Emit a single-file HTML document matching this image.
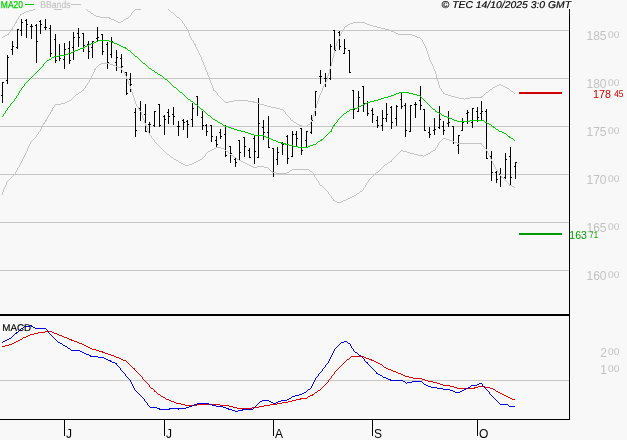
<!DOCTYPE html>
<html><head><meta charset="utf-8"><title>TEC chart</title>
<style>html,body{margin:0;padding:0;background:#f8f8f8;}body{width:627px;height:440px;position:relative;overflow:hidden;}</style></head>
<body>
<svg width="627" height="440" viewBox="0 0 627 440" style="position:absolute;left:0;top:0">
<rect width="627" height="440" fill="#f8f8f8"/>
<g shape-rendering="crispEdges" fill="#c6c6c6">
<rect x="0" y="30" width="569" height="1"/>
<rect x="0" y="78" width="569" height="1"/>
<rect x="0" y="126" width="569" height="1"/>
<rect x="0" y="174" width="569" height="1"/>
<rect x="0" y="222" width="569" height="1"/>
<rect x="0" y="270" width="569" height="1"/>
<rect x="0" y="380" width="569" height="1"/>
</g>
<g shape-rendering="crispEdges" fill="#000">
<rect x="2" y="82" width="1" height="21"/>
<rect x="1" y="95" width="1" height="1"/>
<rect x="3" y="82" width="1" height="1"/>
<rect x="7" y="55" width="1" height="29"/>
<rect x="6" y="80" width="1" height="1"/>
<rect x="8" y="57" width="1" height="1"/>
<rect x="12" y="41" width="1" height="14"/>
<rect x="11" y="49" width="1" height="1"/>
<rect x="13" y="46" width="1" height="1"/>
<rect x="17" y="29" width="1" height="20"/>
<rect x="16" y="47" width="1" height="1"/>
<rect x="18" y="29" width="1" height="1"/>
<rect x="21" y="19" width="1" height="17"/>
<rect x="20" y="30" width="1" height="1"/>
<rect x="22" y="22" width="1" height="1"/>
<rect x="26" y="19" width="1" height="19"/>
<rect x="25" y="20" width="1" height="1"/>
<rect x="27" y="24" width="1" height="1"/>
<rect x="31" y="24" width="1" height="15"/>
<rect x="30" y="26" width="1" height="1"/>
<rect x="32" y="26" width="1" height="1"/>
<rect x="36" y="24" width="1" height="39"/>
<rect x="35" y="25" width="1" height="1"/>
<rect x="37" y="41" width="1" height="1"/>
<rect x="40" y="20" width="1" height="14"/>
<rect x="39" y="21" width="1" height="1"/>
<rect x="41" y="24" width="1" height="1"/>
<rect x="45" y="19" width="1" height="11"/>
<rect x="44" y="27" width="1" height="1"/>
<rect x="46" y="27" width="1" height="1"/>
<rect x="50" y="25" width="1" height="32"/>
<rect x="49" y="28" width="1" height="1"/>
<rect x="51" y="53" width="1" height="1"/>
<rect x="55" y="34" width="1" height="29"/>
<rect x="54" y="39" width="1" height="1"/>
<rect x="56" y="60" width="1" height="1"/>
<rect x="59" y="44" width="1" height="17"/>
<rect x="58" y="56" width="1" height="1"/>
<rect x="60" y="58" width="1" height="1"/>
<rect x="64" y="43" width="1" height="26"/>
<rect x="63" y="59" width="1" height="1"/>
<rect x="65" y="49" width="1" height="1"/>
<rect x="69" y="41" width="1" height="23"/>
<rect x="68" y="48" width="1" height="1"/>
<rect x="70" y="60" width="1" height="1"/>
<rect x="73" y="32" width="1" height="28"/>
<rect x="72" y="47" width="1" height="1"/>
<rect x="74" y="37" width="1" height="1"/>
<rect x="78" y="28" width="1" height="19"/>
<rect x="77" y="33" width="1" height="1"/>
<rect x="79" y="37" width="1" height="1"/>
<rect x="83" y="33" width="1" height="19"/>
<rect x="82" y="33" width="1" height="1"/>
<rect x="84" y="45" width="1" height="1"/>
<rect x="88" y="41" width="1" height="18"/>
<rect x="87" y="44" width="1" height="1"/>
<rect x="89" y="51" width="1" height="1"/>
<rect x="92" y="41" width="1" height="17"/>
<rect x="91" y="47" width="1" height="1"/>
<rect x="93" y="41" width="1" height="1"/>
<rect x="97" y="27" width="1" height="14"/>
<rect x="96" y="38" width="1" height="1"/>
<rect x="98" y="37" width="1" height="1"/>
<rect x="102" y="34" width="1" height="21"/>
<rect x="101" y="34" width="1" height="1"/>
<rect x="103" y="51" width="1" height="1"/>
<rect x="107" y="42" width="1" height="27"/>
<rect x="106" y="44" width="1" height="1"/>
<rect x="108" y="62" width="1" height="1"/>
<rect x="111" y="37" width="1" height="21"/>
<rect x="110" y="54" width="1" height="1"/>
<rect x="112" y="41" width="1" height="1"/>
<rect x="116" y="50" width="1" height="21"/>
<rect x="115" y="62" width="1" height="1"/>
<rect x="117" y="57" width="1" height="1"/>
<rect x="121" y="54" width="1" height="19"/>
<rect x="120" y="58" width="1" height="1"/>
<rect x="122" y="66" width="1" height="1"/>
<rect x="126" y="72" width="1" height="23"/>
<rect x="125" y="72" width="1" height="1"/>
<rect x="127" y="93" width="1" height="1"/>
<rect x="130" y="73" width="1" height="19"/>
<rect x="129" y="79" width="1" height="1"/>
<rect x="131" y="84" width="1" height="1"/>
<rect x="135" y="108" width="1" height="29"/>
<rect x="134" y="112" width="1" height="1"/>
<rect x="136" y="130" width="1" height="1"/>
<rect x="140" y="101" width="1" height="20"/>
<rect x="139" y="108" width="1" height="1"/>
<rect x="141" y="112" width="1" height="1"/>
<rect x="145" y="104" width="1" height="28"/>
<rect x="144" y="114" width="1" height="1"/>
<rect x="146" y="131" width="1" height="1"/>
<rect x="149" y="122" width="1" height="12"/>
<rect x="148" y="124" width="1" height="1"/>
<rect x="150" y="124" width="1" height="1"/>
<rect x="154" y="111" width="1" height="16"/>
<rect x="153" y="125" width="1" height="1"/>
<rect x="155" y="111" width="1" height="1"/>
<rect x="159" y="104" width="1" height="23"/>
<rect x="158" y="104" width="1" height="1"/>
<rect x="160" y="125" width="1" height="1"/>
<rect x="164" y="115" width="1" height="20"/>
<rect x="163" y="116" width="1" height="1"/>
<rect x="165" y="119" width="1" height="1"/>
<rect x="168" y="109" width="1" height="15"/>
<rect x="167" y="112" width="1" height="1"/>
<rect x="169" y="116" width="1" height="1"/>
<rect x="173" y="107" width="1" height="18"/>
<rect x="172" y="114" width="1" height="1"/>
<rect x="174" y="116" width="1" height="1"/>
<rect x="178" y="121" width="1" height="15"/>
<rect x="177" y="126" width="1" height="1"/>
<rect x="179" y="126" width="1" height="1"/>
<rect x="183" y="119" width="1" height="11"/>
<rect x="182" y="120" width="1" height="1"/>
<rect x="184" y="122" width="1" height="1"/>
<rect x="187" y="120" width="1" height="18"/>
<rect x="186" y="121" width="1" height="1"/>
<rect x="188" y="124" width="1" height="1"/>
<rect x="192" y="103" width="1" height="24"/>
<rect x="191" y="119" width="1" height="1"/>
<rect x="193" y="108" width="1" height="1"/>
<rect x="197" y="96" width="1" height="20"/>
<rect x="196" y="96" width="1" height="1"/>
<rect x="198" y="106" width="1" height="1"/>
<rect x="202" y="111" width="1" height="19"/>
<rect x="201" y="117" width="1" height="1"/>
<rect x="203" y="125" width="1" height="1"/>
<rect x="206" y="124" width="1" height="12"/>
<rect x="205" y="125" width="1" height="1"/>
<rect x="207" y="131" width="1" height="1"/>
<rect x="211" y="125" width="1" height="17"/>
<rect x="210" y="125" width="1" height="1"/>
<rect x="212" y="136" width="1" height="1"/>
<rect x="216" y="136" width="1" height="11"/>
<rect x="215" y="140" width="1" height="1"/>
<rect x="217" y="144" width="1" height="1"/>
<rect x="220" y="129" width="1" height="10"/>
<rect x="219" y="132" width="1" height="1"/>
<rect x="221" y="136" width="1" height="1"/>
<rect x="225" y="125" width="1" height="32"/>
<rect x="224" y="134" width="1" height="1"/>
<rect x="226" y="155" width="1" height="1"/>
<rect x="230" y="146" width="1" height="17"/>
<rect x="229" y="146" width="1" height="1"/>
<rect x="231" y="153" width="1" height="1"/>
<rect x="235" y="157" width="1" height="10"/>
<rect x="234" y="159" width="1" height="1"/>
<rect x="236" y="162" width="1" height="1"/>
<rect x="239" y="140" width="1" height="20"/>
<rect x="238" y="140" width="1" height="1"/>
<rect x="240" y="152" width="1" height="1"/>
<rect x="244" y="137" width="1" height="20"/>
<rect x="243" y="137" width="1" height="1"/>
<rect x="245" y="146" width="1" height="1"/>
<rect x="249" y="148" width="1" height="10"/>
<rect x="248" y="150" width="1" height="1"/>
<rect x="250" y="157" width="1" height="1"/>
<rect x="254" y="136" width="1" height="28"/>
<rect x="253" y="138" width="1" height="1"/>
<rect x="255" y="151" width="1" height="1"/>
<rect x="258" y="98" width="1" height="60"/>
<rect x="257" y="157" width="1" height="1"/>
<rect x="259" y="123" width="1" height="1"/>
<rect x="263" y="120" width="1" height="20"/>
<rect x="262" y="127" width="1" height="1"/>
<rect x="264" y="132" width="1" height="1"/>
<rect x="268" y="116" width="1" height="32"/>
<rect x="267" y="132" width="1" height="1"/>
<rect x="269" y="147" width="1" height="1"/>
<rect x="273" y="148" width="1" height="29"/>
<rect x="272" y="148" width="1" height="1"/>
<rect x="274" y="172" width="1" height="1"/>
<rect x="277" y="147" width="1" height="18"/>
<rect x="276" y="159" width="1" height="1"/>
<rect x="278" y="152" width="1" height="1"/>
<rect x="282" y="142" width="1" height="13"/>
<rect x="281" y="143" width="1" height="1"/>
<rect x="283" y="144" width="1" height="1"/>
<rect x="287" y="135" width="1" height="29"/>
<rect x="286" y="136" width="1" height="1"/>
<rect x="288" y="158" width="1" height="1"/>
<rect x="292" y="131" width="1" height="26"/>
<rect x="291" y="156" width="1" height="1"/>
<rect x="293" y="134" width="1" height="1"/>
<rect x="296" y="131" width="1" height="15"/>
<rect x="295" y="134" width="1" height="1"/>
<rect x="297" y="138" width="1" height="1"/>
<rect x="301" y="128" width="1" height="27"/>
<rect x="300" y="128" width="1" height="1"/>
<rect x="302" y="150" width="1" height="1"/>
<rect x="306" y="131" width="1" height="16"/>
<rect x="305" y="140" width="1" height="1"/>
<rect x="307" y="131" width="1" height="1"/>
<rect x="311" y="115" width="1" height="19"/>
<rect x="310" y="132" width="1" height="1"/>
<rect x="312" y="120" width="1" height="1"/>
<rect x="315" y="91" width="1" height="25"/>
<rect x="314" y="112" width="1" height="1"/>
<rect x="316" y="91" width="1" height="1"/>
<rect x="320" y="70" width="1" height="14"/>
<rect x="319" y="76" width="1" height="1"/>
<rect x="321" y="76" width="1" height="1"/>
<rect x="325" y="73" width="1" height="14"/>
<rect x="324" y="78" width="1" height="1"/>
<rect x="326" y="78" width="1" height="1"/>
<rect x="330" y="44" width="1" height="36"/>
<rect x="329" y="78" width="1" height="1"/>
<rect x="331" y="46" width="1" height="1"/>
<rect x="334" y="30" width="1" height="23"/>
<rect x="333" y="30" width="1" height="1"/>
<rect x="335" y="50" width="1" height="1"/>
<rect x="339" y="31" width="1" height="19"/>
<rect x="338" y="32" width="1" height="1"/>
<rect x="340" y="46" width="1" height="1"/>
<rect x="344" y="39" width="1" height="15"/>
<rect x="343" y="53" width="1" height="1"/>
<rect x="345" y="48" width="1" height="1"/>
<rect x="349" y="50" width="1" height="23"/>
<rect x="348" y="50" width="1" height="1"/>
<rect x="350" y="72" width="1" height="1"/>
<rect x="353" y="90" width="1" height="29"/>
<rect x="352" y="90" width="1" height="1"/>
<rect x="354" y="109" width="1" height="1"/>
<rect x="358" y="91" width="1" height="21"/>
<rect x="357" y="111" width="1" height="1"/>
<rect x="359" y="97" width="1" height="1"/>
<rect x="363" y="86" width="1" height="26"/>
<rect x="362" y="86" width="1" height="1"/>
<rect x="364" y="103" width="1" height="1"/>
<rect x="367" y="101" width="1" height="15"/>
<rect x="366" y="103" width="1" height="1"/>
<rect x="368" y="113" width="1" height="1"/>
<rect x="372" y="108" width="1" height="15"/>
<rect x="371" y="110" width="1" height="1"/>
<rect x="373" y="114" width="1" height="1"/>
<rect x="377" y="116" width="1" height="12"/>
<rect x="376" y="120" width="1" height="1"/>
<rect x="378" y="125" width="1" height="1"/>
<rect x="382" y="110" width="1" height="21"/>
<rect x="381" y="125" width="1" height="1"/>
<rect x="383" y="118" width="1" height="1"/>
<rect x="386" y="103" width="1" height="19"/>
<rect x="385" y="118" width="1" height="1"/>
<rect x="387" y="114" width="1" height="1"/>
<rect x="391" y="106" width="1" height="23"/>
<rect x="390" y="107" width="1" height="1"/>
<rect x="392" y="122" width="1" height="1"/>
<rect x="396" y="105" width="1" height="21"/>
<rect x="395" y="118" width="1" height="1"/>
<rect x="397" y="106" width="1" height="1"/>
<rect x="401" y="92" width="1" height="17"/>
<rect x="400" y="99" width="1" height="1"/>
<rect x="402" y="106" width="1" height="1"/>
<rect x="405" y="103" width="1" height="34"/>
<rect x="404" y="105" width="1" height="1"/>
<rect x="406" y="130" width="1" height="1"/>
<rect x="410" y="105" width="1" height="27"/>
<rect x="409" y="131" width="1" height="1"/>
<rect x="411" y="105" width="1" height="1"/>
<rect x="415" y="102" width="1" height="16"/>
<rect x="414" y="104" width="1" height="1"/>
<rect x="416" y="104" width="1" height="1"/>
<rect x="420" y="86" width="1" height="24"/>
<rect x="419" y="100" width="1" height="1"/>
<rect x="421" y="105" width="1" height="1"/>
<rect x="424" y="109" width="1" height="22"/>
<rect x="423" y="109" width="1" height="1"/>
<rect x="425" y="130" width="1" height="1"/>
<rect x="429" y="127" width="1" height="11"/>
<rect x="428" y="132" width="1" height="1"/>
<rect x="430" y="134" width="1" height="1"/>
<rect x="434" y="118" width="1" height="17"/>
<rect x="433" y="130" width="1" height="1"/>
<rect x="435" y="129" width="1" height="1"/>
<rect x="439" y="106" width="1" height="23"/>
<rect x="438" y="127" width="1" height="1"/>
<rect x="440" y="119" width="1" height="1"/>
<rect x="443" y="121" width="1" height="14"/>
<rect x="442" y="126" width="1" height="1"/>
<rect x="444" y="130" width="1" height="1"/>
<rect x="448" y="111" width="1" height="16"/>
<rect x="447" y="123" width="1" height="1"/>
<rect x="449" y="122" width="1" height="1"/>
<rect x="453" y="126" width="1" height="18"/>
<rect x="452" y="126" width="1" height="1"/>
<rect x="454" y="142" width="1" height="1"/>
<rect x="458" y="135" width="1" height="19"/>
<rect x="457" y="145" width="1" height="1"/>
<rect x="459" y="135" width="1" height="1"/>
<rect x="462" y="118" width="1" height="13"/>
<rect x="461" y="130" width="1" height="1"/>
<rect x="463" y="122" width="1" height="1"/>
<rect x="467" y="110" width="1" height="14"/>
<rect x="466" y="113" width="1" height="1"/>
<rect x="468" y="112" width="1" height="1"/>
<rect x="472" y="108" width="1" height="20"/>
<rect x="471" y="122" width="1" height="1"/>
<rect x="473" y="108" width="1" height="1"/>
<rect x="477" y="107" width="1" height="15"/>
<rect x="476" y="111" width="1" height="1"/>
<rect x="478" y="117" width="1" height="1"/>
<rect x="481" y="101" width="1" height="19"/>
<rect x="480" y="113" width="1" height="1"/>
<rect x="482" y="111" width="1" height="1"/>
<rect x="486" y="109" width="1" height="50"/>
<rect x="485" y="111" width="1" height="1"/>
<rect x="487" y="158" width="1" height="1"/>
<rect x="491" y="151" width="1" height="30"/>
<rect x="490" y="156" width="1" height="1"/>
<rect x="492" y="172" width="1" height="1"/>
<rect x="496" y="171" width="1" height="12"/>
<rect x="495" y="172" width="1" height="1"/>
<rect x="497" y="179" width="1" height="1"/>
<rect x="500" y="168" width="1" height="19"/>
<rect x="499" y="174" width="1" height="1"/>
<rect x="501" y="176" width="1" height="1"/>
<rect x="505" y="153" width="1" height="26"/>
<rect x="504" y="177" width="1" height="1"/>
<rect x="506" y="159" width="1" height="1"/>
<rect x="510" y="147" width="1" height="38"/>
<rect x="509" y="156" width="1" height="1"/>
<rect x="511" y="177" width="1" height="1"/>
<rect x="515" y="162" width="1" height="17"/>
<rect x="514" y="166" width="1" height="1"/>
<rect x="516" y="162" width="1" height="1"/>
</g>
<path d="M33 9h2v1h-2zM29 10h4v1h-4zM26 11h3v1h-3zM24 12h2v1h-2zM22 13h2v1h-2zM20 14h2v1h-2zM20 15h1v1h-1zM19 16h1v1h-1zM18 17h1v1h-1zM18 18h1v1h-1zM17 19h1v1h-1zM16 20h1v1h-1zM16 21h1v1h-1zM15 22h2v1h-2zM15 23h1v1h-1zM14 24h1v1h-1zM14 25h1v1h-1zM13 26h1v1h-1zM12 27h1v1h-1zM12 28h1v1h-1zM11 29h2v1h-2zM11 30h1v1h-1zM10 31h1v1h-1zM9 32h1v1h-1zM8 33h1v1h-1zM7 34h2v1h-2zM5 35h2v1h-2zM3 36h2v1h-2zM2 37h1v1h-1z" fill="#c4c4c4" shape-rendering="crispEdges"/>
<path d="M54 9h8v1h-8z" fill="#c4c4c4" shape-rendering="crispEdges"/>
<path d="M86 9h1v1h-1zM135 9h6v1h-6zM87 10h1v1h-1zM134 10h1v1h-1zM88 11h2v1h-2zM133 11h1v1h-1zM90 12h1v1h-1zM132 12h1v1h-1zM91 13h2v1h-2zM131 13h1v1h-1zM93 14h1v1h-1zM131 14h1v1h-1zM94 15h2v1h-2zM130 15h1v1h-1zM96 16h4v1h-4zM129 16h1v1h-1zM100 17h10v1h-10zM128 17h1v1h-1zM109 18h2v1h-2zM126 18h2v1h-2zM111 19h3v1h-3zM124 19h2v1h-2zM114 20h2v1h-2zM123 20h1v1h-1zM116 21h2v1h-2zM121 21h2v1h-2zM118 22h3v1h-3z" fill="#c4c4c4" shape-rendering="crispEdges"/>
<path d="M168 9h1v1h-1zM169 10h1v1h-1zM170 11h1v1h-1zM171 12h2v1h-2zM173 13h1v1h-1zM174 14h1v1h-1zM175 15h1v1h-1zM176 16h1v1h-1zM177 17h2v1h-2zM179 18h1v1h-1zM180 19h1v1h-1zM181 20h1v1h-1zM182 21h1v1h-1zM182 22h1v1h-1zM353 22h12v1h-12zM183 23h1v1h-1zM350 23h3v1h-3zM365 23h2v1h-2zM184 24h1v1h-1zM348 24h2v1h-2zM367 24h3v1h-3zM184 25h1v1h-1zM347 25h1v1h-1zM370 25h3v1h-3zM185 26h1v1h-1zM345 26h2v1h-2zM373 26h4v1h-4zM186 27h1v1h-1zM344 27h1v1h-1zM377 27h4v1h-4zM186 28h1v1h-1zM344 28h1v1h-1zM381 28h4v1h-4zM187 29h1v1h-1zM343 29h1v1h-1zM385 29h4v1h-4zM187 30h1v1h-1zM342 30h1v1h-1zM389 30h2v1h-2zM188 31h1v1h-1zM342 31h1v1h-1zM391 31h3v1h-3zM188 32h1v1h-1zM341 32h1v1h-1zM394 32h2v1h-2zM189 33h1v1h-1zM341 33h1v1h-1zM396 33h2v1h-2zM189 34h1v1h-1zM340 34h1v1h-1zM398 34h14v1h-14zM189 35h1v1h-1zM340 35h1v1h-1zM412 35h3v1h-3zM190 36h1v1h-1zM339 36h1v1h-1zM415 36h2v1h-2zM190 37h1v1h-1zM339 37h1v1h-1zM417 37h3v1h-3zM191 38h1v1h-1zM339 38h1v1h-1zM420 38h1v1h-1zM191 39h1v1h-1zM338 39h1v1h-1zM421 39h1v1h-1zM192 40h1v1h-1zM338 40h1v1h-1zM422 40h1v1h-1zM193 41h1v1h-1zM337 41h1v1h-1zM422 41h1v1h-1zM193 42h1v1h-1zM337 42h1v1h-1zM423 42h1v1h-1zM194 43h1v1h-1zM336 43h1v1h-1zM423 43h1v1h-1zM194 44h2v1h-2zM336 44h1v1h-1zM424 44h1v1h-1zM195 45h1v1h-1zM336 45h1v1h-1zM424 45h1v1h-1zM195 46h1v1h-1zM335 46h1v1h-1zM425 46h1v1h-1zM196 47h1v1h-1zM335 47h1v1h-1zM425 47h1v1h-1zM196 48h1v1h-1zM335 48h1v1h-1zM426 48h1v1h-1zM197 49h1v1h-1zM335 49h1v1h-1zM426 49h1v1h-1zM197 50h1v1h-1zM334 50h1v1h-1zM426 50h1v1h-1zM198 51h1v1h-1zM334 51h1v1h-1zM427 51h1v1h-1zM198 52h1v1h-1zM334 52h1v1h-1zM427 52h1v1h-1zM199 53h1v1h-1zM334 53h1v1h-1zM427 53h1v1h-1zM199 54h1v1h-1zM333 54h1v1h-1zM428 54h1v1h-1zM200 55h1v1h-1zM333 55h1v1h-1zM428 55h1v1h-1zM200 56h1v1h-1zM333 56h1v1h-1zM428 56h1v1h-1zM201 57h1v1h-1zM333 57h1v1h-1zM429 57h1v1h-1zM201 58h1v1h-1zM332 58h1v1h-1zM429 58h1v1h-1zM201 59h1v1h-1zM332 59h1v1h-1zM429 59h1v1h-1zM202 60h1v1h-1zM332 60h1v1h-1zM430 60h1v1h-1zM202 61h1v1h-1zM332 61h1v1h-1zM430 61h1v1h-1zM203 62h1v1h-1zM331 62h1v1h-1zM431 62h1v1h-1zM203 63h1v1h-1zM331 63h1v1h-1zM431 63h1v1h-1zM203 64h1v1h-1zM331 64h1v1h-1zM432 64h1v1h-1zM204 65h1v1h-1zM331 65h1v1h-1zM432 65h1v1h-1zM204 66h1v1h-1zM330 66h1v1h-1zM433 66h1v1h-1zM205 67h1v1h-1zM330 67h1v1h-1zM433 67h1v1h-1zM205 68h1v1h-1zM330 68h1v1h-1zM433 68h1v1h-1zM205 69h1v1h-1zM329 69h1v1h-1zM434 69h1v1h-1zM206 70h1v1h-1zM329 70h1v1h-1zM434 70h1v1h-1zM206 71h1v1h-1zM329 71h1v1h-1zM435 71h1v1h-1zM207 72h1v1h-1zM329 72h1v1h-1zM435 72h1v1h-1zM207 73h1v1h-1zM328 73h1v1h-1zM435 73h1v1h-1zM207 74h1v1h-1zM328 74h1v1h-1zM436 74h1v1h-1zM208 75h1v1h-1zM328 75h1v1h-1zM436 75h1v1h-1zM208 76h1v1h-1zM327 76h1v1h-1zM436 76h1v1h-1zM209 77h1v1h-1zM327 77h1v1h-1zM436 77h1v1h-1zM209 78h1v1h-1zM327 78h1v1h-1zM437 78h1v1h-1zM209 79h1v1h-1zM327 79h1v1h-1zM437 79h1v1h-1zM210 80h1v1h-1zM326 80h1v1h-1zM437 80h1v1h-1zM210 81h1v1h-1zM326 81h1v1h-1zM438 81h1v1h-1zM210 82h1v1h-1zM325 82h1v1h-1zM438 82h1v1h-1zM211 83h1v1h-1zM325 83h1v1h-1zM438 83h1v1h-1zM211 84h1v1h-1zM324 84h1v1h-1zM438 84h1v1h-1zM499 84h2v1h-2zM212 85h1v1h-1zM324 85h1v1h-1zM439 85h1v1h-1zM497 85h2v1h-2zM501 85h2v1h-2zM212 86h1v1h-1zM323 86h1v1h-1zM439 86h1v1h-1zM495 86h2v1h-2zM503 86h2v1h-2zM212 87h1v1h-1zM323 87h1v1h-1zM439 87h1v1h-1zM493 87h2v1h-2zM505 87h2v1h-2zM213 88h1v1h-1zM322 88h1v1h-1zM440 88h1v1h-1zM492 88h1v1h-1zM507 88h2v1h-2zM213 89h1v1h-1zM322 89h1v1h-1zM441 89h1v1h-1zM490 89h2v1h-2zM509 89h1v1h-1zM213 90h2v1h-2zM322 90h1v1h-1zM441 90h1v1h-1zM489 90h1v1h-1zM510 90h1v1h-1zM215 91h1v1h-1zM321 91h1v1h-1zM442 91h1v1h-1zM488 91h1v1h-1zM511 91h2v1h-2zM216 92h1v1h-1zM321 92h1v1h-1zM443 92h1v1h-1zM486 92h2v1h-2zM513 92h1v1h-1zM217 93h1v1h-1zM320 93h1v1h-1zM443 93h2v1h-2zM485 93h1v1h-1zM514 93h1v1h-1zM217 94h1v1h-1zM320 94h1v1h-1zM445 94h3v1h-3zM484 94h1v1h-1zM218 95h1v1h-1zM319 95h1v1h-1zM448 95h3v1h-3zM483 95h1v1h-1zM219 96h1v1h-1zM319 96h1v1h-1zM451 96h4v1h-4zM481 96h2v1h-2zM220 97h1v1h-1zM319 97h1v1h-1zM455 97h4v1h-4zM470 97h12v1h-12zM221 98h1v1h-1zM318 98h1v1h-1zM459 98h5v1h-5zM465 98h5v1h-5zM222 99h1v1h-1zM318 99h1v1h-1zM464 99h1v1h-1zM223 100h1v1h-1zM234 100h14v1h-14zM318 100h1v1h-1zM224 101h1v1h-1zM229 101h5v1h-5zM248 101h6v1h-6zM317 101h1v1h-1zM225 102h4v1h-4zM253 102h4v1h-4zM317 102h1v1h-1zM257 103h3v1h-3zM317 103h1v1h-1zM260 104h4v1h-4zM316 104h1v1h-1zM264 105h3v1h-3zM316 105h1v1h-1zM267 106h4v1h-4zM316 106h1v1h-1zM271 107h5v1h-5zM316 107h1v1h-1zM276 108h4v1h-4zM315 108h1v1h-1zM280 109h3v1h-3zM315 109h1v1h-1zM283 110h1v1h-1zM315 110h1v1h-1zM284 111h1v1h-1zM314 111h1v1h-1zM285 112h1v1h-1zM314 112h1v1h-1zM285 113h1v1h-1zM314 113h1v1h-1zM286 114h1v1h-1zM313 114h1v1h-1zM287 115h1v1h-1zM313 115h1v1h-1zM288 116h1v1h-1zM313 116h1v1h-1zM289 117h1v1h-1zM312 117h1v1h-1zM290 118h1v1h-1zM312 118h1v1h-1zM290 119h1v1h-1zM312 119h1v1h-1zM291 120h2v1h-2zM311 120h1v1h-1zM293 121h1v1h-1zM311 121h1v1h-1zM294 122h2v1h-2zM310 122h1v1h-1zM296 123h1v1h-1zM310 123h1v1h-1zM297 124h2v1h-2zM308 124h2v1h-2zM299 125h3v1h-3zM307 125h1v1h-1zM302 126h5v1h-5z" fill="#c4c4c4" shape-rendering="crispEdges"/>
<path d="M101 63h9v1h-9zM99 64h2v1h-2zM110 64h3v1h-3zM98 65h1v1h-1zM113 65h3v1h-3zM97 66h1v1h-1zM116 66h2v1h-2zM96 67h1v1h-1zM118 67h3v1h-3zM95 68h1v1h-1zM121 68h1v1h-1zM94 69h2v1h-2zM121 69h1v1h-1zM94 70h1v1h-1zM122 70h1v1h-1zM94 71h1v1h-1zM123 71h1v1h-1zM93 72h1v1h-1zM124 72h1v1h-1zM93 73h1v1h-1zM124 73h1v1h-1zM92 74h1v1h-1zM125 74h1v1h-1zM92 75h1v1h-1zM125 75h1v1h-1zM91 76h1v1h-1zM126 76h1v1h-1zM91 77h1v1h-1zM126 77h1v1h-1zM90 78h1v1h-1zM126 78h2v1h-2zM90 79h1v1h-1zM127 79h1v1h-1zM89 80h1v1h-1zM127 80h1v1h-1zM89 81h1v1h-1zM128 81h1v1h-1zM88 82h1v1h-1zM128 82h1v1h-1zM87 83h1v1h-1zM128 83h1v1h-1zM87 84h1v1h-1zM129 84h1v1h-1zM86 85h1v1h-1zM129 85h1v1h-1zM85 86h1v1h-1zM130 86h1v1h-1zM85 87h1v1h-1zM130 87h1v1h-1zM84 88h1v1h-1zM130 88h1v1h-1zM83 89h1v1h-1zM131 89h1v1h-1zM82 90h2v1h-2zM131 90h1v1h-1zM81 91h1v1h-1zM131 91h1v1h-1zM79 92h2v1h-2zM132 92h1v1h-1zM78 93h1v1h-1zM132 93h1v1h-1zM76 94h2v1h-2zM132 94h1v1h-1zM75 95h1v1h-1zM133 95h1v1h-1zM74 96h1v1h-1zM133 96h1v1h-1zM73 97h1v1h-1zM133 97h1v1h-1zM72 98h1v1h-1zM134 98h1v1h-1zM71 99h1v1h-1zM134 99h1v1h-1zM69 100h2v1h-2zM134 100h1v1h-1zM67 101h2v1h-2zM135 101h1v1h-1zM65 102h2v1h-2zM135 102h1v1h-1zM61 103h4v1h-4zM135 103h1v1h-1zM55 104h6v1h-6zM136 104h1v1h-1zM54 105h1v1h-1zM136 105h1v1h-1zM54 106h1v1h-1zM137 106h1v1h-1zM53 107h1v1h-1zM138 107h1v1h-1zM52 108h1v1h-1zM138 108h1v1h-1zM52 109h1v1h-1zM139 109h1v1h-1zM51 110h2v1h-2zM139 110h1v1h-1zM51 111h1v1h-1zM140 111h1v1h-1zM50 112h1v1h-1zM141 112h1v1h-1zM50 113h1v1h-1zM141 113h1v1h-1zM49 114h1v1h-1zM141 114h1v1h-1zM48 115h1v1h-1zM142 115h1v1h-1zM48 116h1v1h-1zM142 116h1v1h-1zM47 117h1v1h-1zM142 117h1v1h-1zM47 118h1v1h-1zM143 118h1v1h-1zM46 119h1v1h-1zM143 119h1v1h-1zM45 120h2v1h-2zM144 120h1v1h-1zM45 121h1v1h-1zM144 121h1v1h-1zM44 122h1v1h-1zM144 122h1v1h-1zM43 123h2v1h-2zM145 123h1v1h-1zM43 124h1v1h-1zM145 124h1v1h-1zM42 125h1v1h-1zM145 125h2v1h-2zM42 126h1v1h-1zM146 126h1v1h-1zM41 127h1v1h-1zM146 127h1v1h-1zM41 128h1v1h-1zM147 128h1v1h-1zM40 129h1v1h-1zM147 129h1v1h-1zM40 130h1v1h-1zM147 130h1v1h-1zM39 131h1v1h-1zM148 131h1v1h-1zM38 132h1v1h-1zM148 132h1v1h-1zM38 133h1v1h-1zM149 133h1v1h-1zM37 134h1v1h-1zM149 134h1v1h-1zM36 135h1v1h-1zM150 135h1v1h-1zM36 136h1v1h-1zM151 136h1v1h-1zM35 137h1v1h-1zM151 137h1v1h-1zM34 138h1v1h-1zM152 138h1v1h-1zM443 138h3v1h-3zM33 139h1v1h-1zM153 139h1v1h-1zM442 139h1v1h-1zM446 139h3v1h-3zM32 140h1v1h-1zM154 140h1v1h-1zM441 140h1v1h-1zM449 140h3v1h-3zM31 141h1v1h-1zM154 141h1v1h-1zM440 141h1v1h-1zM452 141h2v1h-2zM30 142h1v1h-1zM155 142h1v1h-1zM439 142h1v1h-1zM454 142h3v1h-3zM30 143h1v1h-1zM156 143h1v1h-1zM438 143h1v1h-1zM457 143h25v1h-25zM29 144h1v1h-1zM157 144h1v1h-1zM438 144h1v1h-1zM481 144h1v1h-1zM29 145h1v1h-1zM158 145h1v1h-1zM437 145h1v1h-1zM482 145h1v1h-1zM28 146h1v1h-1zM159 146h1v1h-1zM437 146h1v1h-1zM483 146h1v1h-1zM28 147h1v1h-1zM160 147h1v1h-1zM216 147h5v1h-5zM436 147h1v1h-1zM484 147h1v1h-1zM27 148h1v1h-1zM161 148h1v1h-1zM214 148h2v1h-2zM221 148h3v1h-3zM435 148h1v1h-1zM485 148h1v1h-1zM27 149h1v1h-1zM162 149h1v1h-1zM212 149h2v1h-2zM224 149h1v1h-1zM435 149h1v1h-1zM486 149h1v1h-1zM27 150h1v1h-1zM163 150h1v1h-1zM210 150h2v1h-2zM225 150h1v1h-1zM401 150h2v1h-2zM433 150h2v1h-2zM486 150h1v1h-1zM26 151h1v1h-1zM164 151h1v1h-1zM208 151h2v1h-2zM226 151h2v1h-2zM400 151h1v1h-1zM403 151h4v1h-4zM431 151h2v1h-2zM487 151h1v1h-1zM26 152h1v1h-1zM165 152h1v1h-1zM207 152h1v1h-1zM228 152h1v1h-1zM399 152h1v1h-1zM407 152h3v1h-3zM430 152h1v1h-1zM487 152h1v1h-1zM25 153h1v1h-1zM166 153h1v1h-1zM206 153h1v1h-1zM229 153h1v1h-1zM398 153h1v1h-1zM410 153h4v1h-4zM428 153h2v1h-2zM488 153h1v1h-1zM25 154h1v1h-1zM167 154h2v1h-2zM205 154h1v1h-1zM230 154h1v1h-1zM397 154h1v1h-1zM414 154h4v1h-4zM426 154h2v1h-2zM488 154h1v1h-1zM24 155h1v1h-1zM169 155h1v1h-1zM205 155h1v1h-1zM231 155h2v1h-2zM396 155h1v1h-1zM418 155h5v1h-5zM424 155h2v1h-2zM489 155h1v1h-1zM24 156h1v1h-1zM170 156h1v1h-1zM204 156h1v1h-1zM233 156h1v1h-1zM395 156h1v1h-1zM423 156h1v1h-1zM489 156h1v1h-1zM23 157h1v1h-1zM171 157h2v1h-2zM203 157h1v1h-1zM234 157h2v1h-2zM394 157h1v1h-1zM490 157h1v1h-1zM23 158h1v1h-1zM173 158h1v1h-1zM202 158h1v1h-1zM236 158h1v1h-1zM393 158h1v1h-1zM490 158h1v1h-1zM22 159h1v1h-1zM174 159h2v1h-2zM200 159h2v1h-2zM237 159h2v1h-2zM392 159h1v1h-1zM491 159h1v1h-1zM22 160h1v1h-1zM176 160h2v1h-2zM198 160h2v1h-2zM239 160h2v1h-2zM391 160h1v1h-1zM491 160h1v1h-1zM21 161h1v1h-1zM178 161h1v1h-1zM196 161h2v1h-2zM241 161h2v1h-2zM390 161h2v1h-2zM492 161h1v1h-1zM21 162h1v1h-1zM179 162h2v1h-2zM194 162h2v1h-2zM243 162h2v1h-2zM388 162h2v1h-2zM492 162h1v1h-1zM20 163h1v1h-1zM181 163h2v1h-2zM192 163h2v1h-2zM245 163h2v1h-2zM387 163h1v1h-1zM493 163h1v1h-1zM20 164h1v1h-1zM183 164h2v1h-2zM189 164h3v1h-3zM247 164h2v1h-2zM385 164h2v1h-2zM493 164h1v1h-1zM19 165h1v1h-1zM185 165h4v1h-4zM249 165h2v1h-2zM384 165h1v1h-1zM494 165h1v1h-1zM19 166h1v1h-1zM251 166h2v1h-2zM257 166h7v1h-7zM383 166h1v1h-1zM494 166h1v1h-1zM18 167h1v1h-1zM253 167h4v1h-4zM264 167h4v1h-4zM382 167h1v1h-1zM495 167h1v1h-1zM17 168h1v1h-1zM268 168h1v1h-1zM381 168h1v1h-1zM495 168h1v1h-1zM17 169h1v1h-1zM269 169h1v1h-1zM292 169h17v1h-17zM380 169h1v1h-1zM496 169h1v1h-1zM16 170h1v1h-1zM270 170h1v1h-1zM290 170h2v1h-2zM309 170h1v1h-1zM379 170h1v1h-1zM497 170h1v1h-1zM16 171h1v1h-1zM271 171h2v1h-2zM289 171h1v1h-1zM310 171h2v1h-2zM378 171h1v1h-1zM497 171h1v1h-1zM15 172h1v1h-1zM272 172h4v1h-4zM287 172h2v1h-2zM312 172h1v1h-1zM376 172h2v1h-2zM498 172h1v1h-1zM15 173h1v1h-1zM276 173h11v1h-11zM313 173h1v1h-1zM375 173h1v1h-1zM499 173h1v1h-1zM14 174h1v1h-1zM313 174h1v1h-1zM374 174h2v1h-2zM500 174h1v1h-1zM13 175h1v1h-1zM314 175h1v1h-1zM373 175h1v1h-1zM500 175h1v1h-1zM12 176h1v1h-1zM314 176h1v1h-1zM372 176h1v1h-1zM501 176h1v1h-1zM11 177h1v1h-1zM315 177h1v1h-1zM371 177h1v1h-1zM501 177h2v1h-2zM10 178h1v1h-1zM316 178h1v1h-1zM370 178h1v1h-1zM503 178h1v1h-1zM9 179h1v1h-1zM316 179h1v1h-1zM369 179h1v1h-1zM504 179h1v1h-1zM8 180h1v1h-1zM317 180h1v1h-1zM368 180h1v1h-1zM505 180h1v1h-1zM7 181h1v1h-1zM318 181h1v1h-1zM368 181h1v1h-1zM506 181h1v1h-1zM6 182h1v1h-1zM318 182h1v1h-1zM367 182h1v1h-1zM507 182h1v1h-1zM6 183h1v1h-1zM319 183h1v1h-1zM366 183h1v1h-1zM508 183h1v1h-1zM6 184h1v1h-1zM319 184h1v1h-1zM366 184h1v1h-1zM509 184h1v1h-1zM5 185h1v1h-1zM320 185h2v1h-2zM365 185h1v1h-1zM509 185h3v1h-3zM5 186h1v1h-1zM322 186h1v1h-1zM365 186h1v1h-1zM512 186h2v1h-2zM4 187h1v1h-1zM323 187h1v1h-1zM364 187h1v1h-1zM514 187h1v1h-1zM4 188h1v1h-1zM324 188h1v1h-1zM363 188h1v1h-1zM3 189h1v1h-1zM325 189h1v1h-1zM363 189h1v1h-1zM3 190h1v1h-1zM326 190h1v1h-1zM362 190h1v1h-1zM3 191h1v1h-1zM327 191h1v1h-1zM360 191h2v1h-2zM2 192h1v1h-1zM328 192h1v1h-1zM359 192h1v1h-1zM2 193h1v1h-1zM328 193h1v1h-1zM357 193h2v1h-2zM2 194h1v1h-1zM329 194h1v1h-1zM356 194h1v1h-1zM330 195h1v1h-1zM354 195h2v1h-2zM331 196h1v1h-1zM352 196h2v1h-2zM331 197h1v1h-1zM350 197h2v1h-2zM332 198h1v1h-1zM348 198h2v1h-2zM333 199h1v1h-1zM346 199h2v1h-2zM333 200h2v1h-2zM343 200h3v1h-3zM335 201h2v1h-2zM341 201h2v1h-2zM337 202h4v1h-4z" fill="#c4c4c4" shape-rendering="crispEdges"/>
<path d="M98 40h11v1h-11zM96 41h2v1h-2zM109 41h3v1h-3zM94 42h2v1h-2zM112 42h2v1h-2zM91 43h3v1h-3zM114 43h3v1h-3zM89 44h2v1h-2zM117 44h2v1h-2zM87 45h2v1h-2zM119 45h2v1h-2zM85 46h2v1h-2zM121 46h2v1h-2zM83 47h2v1h-2zM123 47h3v1h-3zM80 48h4v1h-4zM125 48h2v1h-2zM78 49h2v1h-2zM127 49h1v1h-1zM75 50h3v1h-3zM128 50h2v1h-2zM73 51h2v1h-2zM130 51h1v1h-1zM71 52h2v1h-2zM131 52h1v1h-1zM68 53h3v1h-3zM132 53h1v1h-1zM65 54h3v1h-3zM133 54h1v1h-1zM59 55h6v1h-6zM134 55h1v1h-1zM54 56h5v1h-5zM135 56h2v1h-2zM52 57h2v1h-2zM137 57h1v1h-1zM51 58h1v1h-1zM138 58h1v1h-1zM49 59h2v1h-2zM139 59h1v1h-1zM47 60h2v1h-2zM140 60h1v1h-1zM46 61h1v1h-1zM141 61h1v1h-1zM45 62h1v1h-1zM142 62h1v1h-1zM44 63h1v1h-1zM143 63h2v1h-2zM43 64h1v1h-1zM145 64h1v1h-1zM43 65h1v1h-1zM146 65h1v1h-1zM42 66h1v1h-1zM147 66h1v1h-1zM41 67h1v1h-1zM148 67h1v1h-1zM40 68h1v1h-1zM149 68h2v1h-2zM39 69h1v1h-1zM151 69h1v1h-1zM38 70h1v1h-1zM152 70h2v1h-2zM37 71h1v1h-1zM154 71h1v1h-1zM36 72h1v1h-1zM155 72h2v1h-2zM35 73h1v1h-1zM157 73h1v1h-1zM34 74h1v1h-1zM158 74h2v1h-2zM33 75h1v1h-1zM160 75h2v1h-2zM32 76h1v1h-1zM162 76h1v1h-1zM31 77h1v1h-1zM163 77h1v1h-1zM30 78h1v1h-1zM164 78h1v1h-1zM29 79h1v1h-1zM165 79h2v1h-2zM28 80h1v1h-1zM167 80h1v1h-1zM27 81h1v1h-1zM168 81h1v1h-1zM26 82h1v1h-1zM169 82h1v1h-1zM25 83h1v1h-1zM170 83h1v1h-1zM24 84h1v1h-1zM171 84h1v1h-1zM24 85h1v1h-1zM172 85h1v1h-1zM23 86h1v1h-1zM173 86h1v1h-1zM22 87h1v1h-1zM174 87h2v1h-2zM21 88h1v1h-1zM176 88h1v1h-1zM21 89h1v1h-1zM177 89h1v1h-1zM20 90h1v1h-1zM178 90h1v1h-1zM19 91h1v1h-1zM179 91h1v1h-1zM19 92h1v1h-1zM180 92h2v1h-2zM399 92h10v1h-10zM18 93h1v1h-1zM182 93h1v1h-1zM396 93h3v1h-3zM409 93h4v1h-4zM18 94h1v1h-1zM183 94h1v1h-1zM394 94h2v1h-2zM413 94h4v1h-4zM17 95h1v1h-1zM184 95h1v1h-1zM391 95h3v1h-3zM417 95h3v1h-3zM16 96h1v1h-1zM185 96h1v1h-1zM388 96h3v1h-3zM420 96h1v1h-1zM16 97h1v1h-1zM186 97h1v1h-1zM384 97h4v1h-4zM421 97h1v1h-1zM15 98h1v1h-1zM187 98h1v1h-1zM381 98h3v1h-3zM422 98h1v1h-1zM14 99h1v1h-1zM188 99h2v1h-2zM378 99h3v1h-3zM423 99h1v1h-1zM14 100h1v1h-1zM190 100h1v1h-1zM374 100h4v1h-4zM424 100h1v1h-1zM13 101h1v1h-1zM191 101h2v1h-2zM370 101h4v1h-4zM425 101h1v1h-1zM12 102h1v1h-1zM193 102h1v1h-1zM367 102h3v1h-3zM426 102h1v1h-1zM11 103h1v1h-1zM194 103h1v1h-1zM365 103h2v1h-2zM427 103h1v1h-1zM10 104h1v1h-1zM195 104h2v1h-2zM363 104h2v1h-2zM428 104h1v1h-1zM10 105h1v1h-1zM197 105h1v1h-1zM361 105h2v1h-2zM429 105h1v1h-1zM9 106h1v1h-1zM198 106h1v1h-1zM359 106h2v1h-2zM430 106h1v1h-1zM8 107h1v1h-1zM199 107h1v1h-1zM357 107h2v1h-2zM431 107h1v1h-1zM7 108h1v1h-1zM200 108h1v1h-1zM353 108h4v1h-4zM432 108h1v1h-1zM7 109h1v1h-1zM201 109h2v1h-2zM350 109h3v1h-3zM433 109h2v1h-2zM6 110h1v1h-1zM203 110h1v1h-1zM349 110h1v1h-1zM435 110h1v1h-1zM5 111h1v1h-1zM204 111h1v1h-1zM347 111h2v1h-2zM435 111h2v1h-2zM5 112h1v1h-1zM205 112h1v1h-1zM346 112h1v1h-1zM437 112h2v1h-2zM4 113h1v1h-1zM206 113h1v1h-1zM344 113h2v1h-2zM439 113h2v1h-2zM3 114h1v1h-1zM207 114h1v1h-1zM343 114h1v1h-1zM441 114h1v1h-1zM3 115h1v1h-1zM208 115h2v1h-2zM342 115h1v1h-1zM442 115h2v1h-2zM2 116h1v1h-1zM210 116h1v1h-1zM341 116h1v1h-1zM444 116h3v1h-3zM211 117h1v1h-1zM340 117h1v1h-1zM447 117h2v1h-2zM212 118h1v1h-1zM339 118h1v1h-1zM449 118h3v1h-3zM213 119h2v1h-2zM338 119h1v1h-1zM452 119h2v1h-2zM215 120h2v1h-2zM337 120h1v1h-1zM454 120h3v1h-3zM470 120h14v1h-14zM217 121h1v1h-1zM337 121h1v1h-1zM457 121h13v1h-13zM484 121h1v1h-1zM218 122h2v1h-2zM336 122h1v1h-1zM485 122h2v1h-2zM220 123h2v1h-2zM335 123h1v1h-1zM487 123h2v1h-2zM222 124h1v1h-1zM334 124h1v1h-1zM489 124h2v1h-2zM223 125h2v1h-2zM333 125h2v1h-2zM491 125h1v1h-1zM225 126h3v1h-3zM333 126h1v1h-1zM492 126h2v1h-2zM228 127h3v1h-3zM332 127h1v1h-1zM493 127h2v1h-2zM231 128h3v1h-3zM332 128h1v1h-1zM495 128h1v1h-1zM234 129h3v1h-3zM331 129h1v1h-1zM496 129h2v1h-2zM237 130h4v1h-4zM331 130h1v1h-1zM498 130h1v1h-1zM241 131h4v1h-4zM330 131h2v1h-2zM499 131h3v1h-3zM245 132h3v1h-3zM329 132h1v1h-1zM502 132h2v1h-2zM248 133h3v1h-3zM328 133h1v1h-1zM504 133h2v1h-2zM251 134h3v1h-3zM327 134h1v1h-1zM506 134h1v1h-1zM254 135h10v1h-10zM326 135h1v1h-1zM507 135h1v1h-1zM264 136h2v1h-2zM325 136h1v1h-1zM508 136h2v1h-2zM266 137h2v1h-2zM324 137h1v1h-1zM509 137h2v1h-2zM268 138h3v1h-3zM323 138h1v1h-1zM511 138h2v1h-2zM271 139h2v1h-2zM321 139h2v1h-2zM513 139h1v1h-1zM273 140h3v1h-3zM320 140h2v1h-2zM514 140h1v1h-1zM276 141h2v1h-2zM318 141h2v1h-2zM278 142h4v1h-4zM317 142h1v1h-1zM282 143h4v1h-4zM316 143h1v1h-1zM285 144h4v1h-4zM313 144h3v1h-3zM289 145h4v1h-4zM310 145h3v1h-3zM293 146h5v1h-5zM308 146h2v1h-2zM298 147h10v1h-10z" fill="#00cc00" shape-rendering="crispEdges"/>
<g shape-rendering="crispEdges">
<rect x="519" y="92" width="43" height="2" fill="#cc0000"/>
<rect x="519" y="233" width="43" height="2" fill="#009900"/>
</g>
<path d="M45 331h7v1h-7zM38 332h7v1h-7zM52 332h2v1h-2zM34 333h4v1h-4zM54 333h3v1h-3zM30 334h4v1h-4zM57 334h2v1h-2zM28 335h2v1h-2zM59 335h3v1h-3zM26 336h2v1h-2zM62 336h2v1h-2zM23 337h3v1h-3zM64 337h3v1h-3zM22 338h1v1h-1zM67 338h2v1h-2zM20 339h2v1h-2zM69 339h3v1h-3zM18 340h2v1h-2zM71 340h3v1h-3zM16 341h2v1h-2zM74 341h3v1h-3zM14 342h2v1h-2zM77 342h2v1h-2zM12 343h2v1h-2zM79 343h3v1h-3zM9 344h3v1h-3zM82 344h2v1h-2zM5 345h4v1h-4zM84 345h2v1h-2zM2 346h3v1h-3zM86 346h2v1h-2zM88 347h2v1h-2zM90 348h2v1h-2zM92 349h4v1h-4zM96 350h3v1h-3zM99 351h4v1h-4zM102 352h3v1h-3zM105 353h3v1h-3zM108 354h3v1h-3zM111 355h3v1h-3zM114 356h2v1h-2zM351 356h13v1h-13zM116 357h3v1h-3zM350 357h1v1h-1zM364 357h2v1h-2zM119 358h2v1h-2zM349 358h1v1h-1zM366 358h3v1h-3zM121 359h2v1h-2zM347 359h2v1h-2zM369 359h3v1h-3zM123 360h3v1h-3zM346 360h1v1h-1zM371 360h3v1h-3zM126 361h1v1h-1zM345 361h1v1h-1zM374 361h2v1h-2zM127 362h1v1h-1zM344 362h1v1h-1zM376 362h2v1h-2zM128 363h1v1h-1zM343 363h1v1h-1zM378 363h2v1h-2zM129 364h1v1h-1zM342 364h1v1h-1zM380 364h2v1h-2zM130 365h1v1h-1zM341 365h1v1h-1zM382 365h1v1h-1zM131 366h1v1h-1zM340 366h1v1h-1zM383 366h1v1h-1zM132 367h1v1h-1zM339 367h1v1h-1zM384 367h2v1h-2zM133 368h2v1h-2zM338 368h1v1h-1zM386 368h2v1h-2zM134 369h1v1h-1zM337 369h1v1h-1zM388 369h3v1h-3zM135 370h1v1h-1zM336 370h1v1h-1zM391 370h2v1h-2zM136 371h1v1h-1zM335 371h1v1h-1zM393 371h3v1h-3zM137 372h1v1h-1zM334 372h1v1h-1zM396 372h2v1h-2zM138 373h1v1h-1zM334 373h1v1h-1zM398 373h3v1h-3zM139 374h1v1h-1zM333 374h1v1h-1zM401 374h2v1h-2zM140 375h1v1h-1zM332 375h1v1h-1zM403 375h2v1h-2zM141 376h1v1h-1zM331 376h1v1h-1zM405 376h4v1h-4zM142 377h1v1h-1zM331 377h1v1h-1zM409 377h4v1h-4zM142 378h1v1h-1zM330 378h1v1h-1zM413 378h9v1h-9zM143 379h1v1h-1zM329 379h1v1h-1zM422 379h3v1h-3zM144 380h1v1h-1zM328 380h1v1h-1zM425 380h3v1h-3zM145 381h1v1h-1zM328 381h1v1h-1zM428 381h5v1h-5zM146 382h1v1h-1zM327 382h1v1h-1zM433 382h4v1h-4zM147 383h1v1h-1zM326 383h1v1h-1zM437 383h3v1h-3zM148 384h1v1h-1zM325 384h1v1h-1zM440 384h3v1h-3zM149 385h1v1h-1zM324 385h1v1h-1zM443 385h7v1h-7zM149 386h1v1h-1zM323 386h1v1h-1zM450 386h4v1h-4zM478 386h7v1h-7zM150 387h1v1h-1zM322 387h1v1h-1zM454 387h3v1h-3zM474 387h4v1h-4zM485 387h5v1h-5zM151 388h2v1h-2zM321 388h1v1h-1zM457 388h18v1h-18zM490 388h3v1h-3zM153 389h1v1h-1zM320 389h1v1h-1zM493 389h2v1h-2zM154 390h1v1h-1zM318 390h2v1h-2zM495 390h1v1h-1zM154 391h2v1h-2zM317 391h1v1h-1zM496 391h2v1h-2zM156 392h1v1h-1zM315 392h2v1h-2zM498 392h2v1h-2zM157 393h1v1h-1zM314 393h1v1h-1zM500 393h2v1h-2zM158 394h2v1h-2zM312 394h2v1h-2zM502 394h2v1h-2zM160 395h1v1h-1zM310 395h3v1h-3zM504 395h2v1h-2zM161 396h2v1h-2zM308 396h2v1h-2zM506 396h2v1h-2zM163 397h2v1h-2zM307 397h1v1h-1zM508 397h2v1h-2zM165 398h1v1h-1zM300 398h7v1h-7zM510 398h2v1h-2zM166 399h3v1h-3zM296 399h5v1h-5zM512 399h3v1h-3zM169 400h2v1h-2zM292 400h4v1h-4zM171 401h3v1h-3zM288 401h4v1h-4zM174 402h2v1h-2zM282 402h6v1h-6zM176 403h5v1h-5zM277 403h5v1h-5zM181 404h4v1h-4zM197 404h23v1h-23zM270 404h7v1h-7zM185 405h12v1h-12zM220 405h9v1h-9zM264 405h6v1h-6zM229 406h4v1h-4zM259 406h5v1h-5zM233 407h4v1h-4zM252 407h7v1h-7zM237 408h15v1h-15z" fill="#dd0000" shape-rendering="crispEdges"/>
<path d="M30 325h2v1h-2zM24 326h6v1h-6zM31 326h2v1h-2zM23 327h1v1h-1zM33 327h2v1h-2zM21 328h2v1h-2zM35 328h11v1h-11zM20 329h1v1h-1zM46 329h1v1h-1zM19 330h1v1h-1zM47 330h1v1h-1zM18 331h1v1h-1zM48 331h1v1h-1zM16 332h2v1h-2zM48 332h1v1h-1zM15 333h2v1h-2zM49 333h1v1h-1zM14 334h1v1h-1zM50 334h1v1h-1zM13 335h1v1h-1zM51 335h1v1h-1zM12 336h1v1h-1zM52 336h1v1h-1zM11 337h1v1h-1zM53 337h1v1h-1zM9 338h2v1h-2zM54 338h1v1h-1zM7 339h2v1h-2zM55 339h1v1h-1zM5 340h2v1h-2zM56 340h1v1h-1zM3 341h2v1h-2zM57 341h1v1h-1zM344 341h3v1h-3zM2 342h1v1h-1zM58 342h2v1h-2zM341 342h3v1h-3zM347 342h1v1h-1zM60 343h2v1h-2zM340 343h1v1h-1zM348 343h2v1h-2zM62 344h1v1h-1zM339 344h1v1h-1zM350 344h1v1h-1zM63 345h2v1h-2zM338 345h1v1h-1zM350 345h1v1h-1zM65 346h2v1h-2zM337 346h1v1h-1zM351 346h1v1h-1zM67 347h1v1h-1zM336 347h1v1h-1zM351 347h1v1h-1zM68 348h2v1h-2zM335 348h1v1h-1zM352 348h1v1h-1zM70 349h1v1h-1zM334 349h1v1h-1zM353 349h1v1h-1zM71 350h9v1h-9zM334 350h1v1h-1zM353 350h1v1h-1zM80 351h2v1h-2zM333 351h1v1h-1zM354 351h1v1h-1zM82 352h2v1h-2zM333 352h1v1h-1zM355 352h2v1h-2zM84 353h2v1h-2zM332 353h1v1h-1zM357 353h1v1h-1zM86 354h3v1h-3zM332 354h1v1h-1zM358 354h1v1h-1zM89 355h2v1h-2zM331 355h1v1h-1zM359 355h2v1h-2zM90 356h8v1h-8zM331 356h1v1h-1zM361 356h1v1h-1zM98 357h6v1h-6zM330 357h1v1h-1zM362 357h1v1h-1zM104 358h2v1h-2zM330 358h1v1h-1zM363 358h1v1h-1zM106 359h2v1h-2zM329 359h1v1h-1zM364 359h1v1h-1zM108 360h3v1h-3zM329 360h1v1h-1zM364 360h1v1h-1zM110 361h2v1h-2zM328 361h1v1h-1zM365 361h1v1h-1zM112 362h3v1h-3zM328 362h1v1h-1zM366 362h2v1h-2zM115 363h2v1h-2zM327 363h1v1h-1zM367 363h1v1h-1zM116 364h1v1h-1zM326 364h1v1h-1zM368 364h1v1h-1zM117 365h1v1h-1zM325 365h1v1h-1zM369 365h1v1h-1zM118 366h1v1h-1zM325 366h1v1h-1zM370 366h1v1h-1zM119 367h1v1h-1zM324 367h1v1h-1zM371 367h1v1h-1zM120 368h1v1h-1zM323 368h1v1h-1zM372 368h1v1h-1zM120 369h1v1h-1zM322 369h1v1h-1zM373 369h1v1h-1zM121 370h1v1h-1zM322 370h1v1h-1zM374 370h1v1h-1zM122 371h1v1h-1zM321 371h1v1h-1zM375 371h1v1h-1zM123 372h1v1h-1zM320 372h1v1h-1zM376 372h1v1h-1zM124 373h1v1h-1zM319 373h1v1h-1zM376 373h2v1h-2zM125 374h1v1h-1zM318 374h1v1h-1zM378 374h2v1h-2zM125 375h1v1h-1zM318 375h1v1h-1zM380 375h2v1h-2zM126 376h1v1h-1zM317 376h1v1h-1zM382 376h1v1h-1zM127 377h1v1h-1zM316 377h1v1h-1zM383 377h3v1h-3zM128 378h1v1h-1zM315 378h1v1h-1zM386 378h2v1h-2zM129 379h1v1h-1zM315 379h1v1h-1zM388 379h3v1h-3zM130 380h1v1h-1zM314 380h1v1h-1zM390 380h13v1h-13zM130 381h1v1h-1zM314 381h1v1h-1zM403 381h2v1h-2zM412 381h10v1h-10zM131 382h1v1h-1zM313 382h1v1h-1zM405 382h1v1h-1zM407 382h5v1h-5zM422 382h1v1h-1zM131 383h1v1h-1zM313 383h1v1h-1zM406 383h1v1h-1zM423 383h1v1h-1zM479 383h3v1h-3zM132 384h1v1h-1zM312 384h1v1h-1zM424 384h2v1h-2zM477 384h2v1h-2zM482 384h1v1h-1zM132 385h1v1h-1zM312 385h1v1h-1zM426 385h2v1h-2zM471 385h6v1h-6zM482 385h1v1h-1zM133 386h1v1h-1zM311 386h1v1h-1zM428 386h3v1h-3zM470 386h1v1h-1zM483 386h1v1h-1zM133 387h1v1h-1zM311 387h1v1h-1zM431 387h6v1h-6zM468 387h2v1h-2zM484 387h1v1h-1zM134 388h1v1h-1zM310 388h1v1h-1zM437 388h6v1h-6zM466 388h2v1h-2zM485 388h1v1h-1zM134 389h1v1h-1zM308 389h2v1h-2zM443 389h7v1h-7zM464 389h2v1h-2zM486 389h1v1h-1zM135 390h1v1h-1zM307 390h1v1h-1zM450 390h3v1h-3zM462 390h2v1h-2zM487 390h1v1h-1zM136 391h1v1h-1zM306 391h1v1h-1zM453 391h2v1h-2zM460 391h2v1h-2zM488 391h1v1h-1zM137 392h1v1h-1zM304 392h2v1h-2zM455 392h5v1h-5zM489 392h1v1h-1zM138 393h1v1h-1zM302 393h2v1h-2zM489 393h1v1h-1zM139 394h1v1h-1zM299 394h3v1h-3zM490 394h1v1h-1zM140 395h1v1h-1zM295 395h4v1h-4zM491 395h1v1h-1zM141 396h1v1h-1zM292 396h3v1h-3zM492 396h1v1h-1zM142 397h1v1h-1zM291 397h1v1h-1zM493 397h1v1h-1zM143 398h1v1h-1zM289 398h2v1h-2zM494 398h1v1h-1zM144 399h1v1h-1zM287 399h2v1h-2zM495 399h1v1h-1zM144 400h1v1h-1zM262 400h7v1h-7zM281 400h6v1h-6zM496 400h1v1h-1zM145 401h1v1h-1zM260 401h2v1h-2zM269 401h2v1h-2zM278 401h3v1h-3zM497 401h1v1h-1zM146 402h1v1h-1zM259 402h1v1h-1zM271 402h2v1h-2zM276 402h2v1h-2zM498 402h1v1h-1zM147 403h1v1h-1zM197 403h12v1h-12zM258 403h1v1h-1zM273 403h3v1h-3zM499 403h1v1h-1zM147 404h1v1h-1zM194 404h3v1h-3zM209 404h3v1h-3zM257 404h1v1h-1zM500 404h8v1h-8zM148 405h1v1h-1zM192 405h2v1h-2zM212 405h4v1h-4zM256 405h1v1h-1zM508 405h1v1h-1zM149 406h1v1h-1zM189 406h3v1h-3zM216 406h7v1h-7zM255 406h1v1h-1zM509 406h6v1h-6zM150 407h7v1h-7zM186 407h3v1h-3zM223 407h3v1h-3zM254 407h1v1h-1zM157 408h3v1h-3zM169 408h17v1h-17zM226 408h3v1h-3zM253 408h1v1h-1zM159 409h11v1h-11zM178 409h1v1h-1zM228 409h4v1h-4zM242 409h11v1h-11zM232 410h3v1h-3zM238 410h5v1h-5zM235 411h3v1h-3z" fill="#0000e0" shape-rendering="crispEdges"/>
<g shape-rendering="crispEdges" fill="#000">
<rect x="569" y="9" width="1" height="411"/>
<rect x="0" y="314" width="569" height="2"/>
<rect x="0" y="419" width="570" height="1"/>
<rect x="64" y="419" width="1" height="17"/>
<rect x="164" y="419" width="1" height="17"/>
<rect x="273" y="419" width="1" height="17"/>
<rect x="372" y="419" width="1" height="17"/>
<rect x="477" y="419" width="1" height="17"/>
</g>
<rect x="25" y="4" width="9" height="1" fill="#00cc00" shape-rendering="crispEdges"/>
<rect x="71" y="4" width="10" height="1" fill="#c4c4c4" shape-rendering="crispEdges"/>
<text transform="translate(0.8,8) scale(0.86,1) rotate(0.05)" font-family="Liberation Sans, Arial, sans-serif" font-size="9.9" fill="#00cc00" stroke="#00cc00" stroke-width="0.25">MA20</text>
<text transform="translate(40.3,8) scale(0.873,1) rotate(0.05)" font-family="Liberation Sans, Arial, sans-serif" font-size="9.9" fill="#c4c4c4" stroke="#c4c4c4" stroke-width="0.2">BBands</text>
<text transform="translate(441.6,8) scale(1.05,1) rotate(0.03)" font-family="Liberation Sans, Arial, sans-serif" font-size="9.9" font-style="italic" fill="#000" stroke="#000" stroke-width="0.15">© TEC 14/10/2025 3:0 GMT</text>
<text transform="translate(2.3,331) rotate(0.05)" font-family="Liberation Sans, Arial, sans-serif" font-size="9.8" fill="#000" stroke="#000" stroke-width="0.15">MACD</text>
<text x="66" y="438" font-family="Liberation Sans, Arial, sans-serif" font-size="12" fill="#000">J</text>
<text x="166" y="438" font-family="Liberation Sans, Arial, sans-serif" font-size="12" fill="#000">J</text>
<text x="275" y="438" font-family="Liberation Sans, Arial, sans-serif" font-size="12" fill="#000">A</text>
<text x="374" y="438" font-family="Liberation Sans, Arial, sans-serif" font-size="12" fill="#000">S</text>
<text x="479" y="438" font-family="Liberation Sans, Arial, sans-serif" font-size="12" fill="#000">O</text>
<text x="586.5" y="39.8" font-family="Liberation Sans, Arial, sans-serif" font-size="12" fill="#c2c2c2">185</text>
<text transform="translate(608.1,37.8) scale(1.08,1) rotate(0.05)" font-family="Liberation Sans, Arial, sans-serif" font-size="9.4" fill="#c2c2c2">00</text>
<text x="586.5" y="87.8" font-family="Liberation Sans, Arial, sans-serif" font-size="12" fill="#c2c2c2">180</text>
<text transform="translate(608.1,85.8) scale(1.08,1) rotate(0.05)" font-family="Liberation Sans, Arial, sans-serif" font-size="9.4" fill="#c2c2c2">00</text>
<text x="586.5" y="135.8" font-family="Liberation Sans, Arial, sans-serif" font-size="12" fill="#c2c2c2">175</text>
<text transform="translate(608.1,133.8) scale(1.08,1) rotate(0.05)" font-family="Liberation Sans, Arial, sans-serif" font-size="9.4" fill="#c2c2c2">00</text>
<text x="586.5" y="183.8" font-family="Liberation Sans, Arial, sans-serif" font-size="12" fill="#c2c2c2">170</text>
<text transform="translate(608.1,181.8) scale(1.08,1) rotate(0.05)" font-family="Liberation Sans, Arial, sans-serif" font-size="9.4" fill="#c2c2c2">00</text>
<text x="586.5" y="231.8" font-family="Liberation Sans, Arial, sans-serif" font-size="12" fill="#c2c2c2">165</text>
<text transform="translate(608.1,229.8) scale(1.08,1) rotate(0.05)" font-family="Liberation Sans, Arial, sans-serif" font-size="9.4" fill="#c2c2c2">00</text>
<text x="586.5" y="279.8" font-family="Liberation Sans, Arial, sans-serif" font-size="12" fill="#c2c2c2">160</text>
<text transform="translate(608.1,277.8) scale(1.08,1) rotate(0.05)" font-family="Liberation Sans, Arial, sans-serif" font-size="9.4" fill="#c2c2c2">00</text>
<text x="600.3" y="356.7" font-family="Liberation Sans, Arial, sans-serif" font-size="12" fill="#c2c2c2">2</text>
<text transform="translate(608.1,354.8) scale(1.08,1) rotate(0.05)" font-family="Liberation Sans, Arial, sans-serif" font-size="9.4" fill="#c2c2c2">00</text>
<text x="600.3" y="373.7" font-family="Liberation Sans, Arial, sans-serif" font-size="12" fill="#c2c2c2">1</text>
<text transform="translate(608.1,371.8) scale(1.08,1) rotate(0.05)" font-family="Liberation Sans, Arial, sans-serif" font-size="9.4" fill="#c2c2c2">00</text>
<text x="593" y="97.6" font-family="Liberation Sans, Arial, sans-serif" font-size="10.5" fill="#cc0000" textLength="18" lengthAdjust="spacingAndGlyphs">178</text>
<text transform="translate(614.2,96.9) scale(0.86,1) rotate(0.05)" font-family="Liberation Sans, Arial, sans-serif" font-size="9.7" fill="#cc0000">45</text>
<text x="569.3" y="238.7" font-family="Liberation Sans, Arial, sans-serif" font-size="10.5" fill="#009900">163</text>
<text transform="translate(589.3,238) scale(0.83,1) rotate(0.05)" font-family="Liberation Sans, Arial, sans-serif" font-size="9.4" fill="#009900">71</text>
</svg>
</body></html>
